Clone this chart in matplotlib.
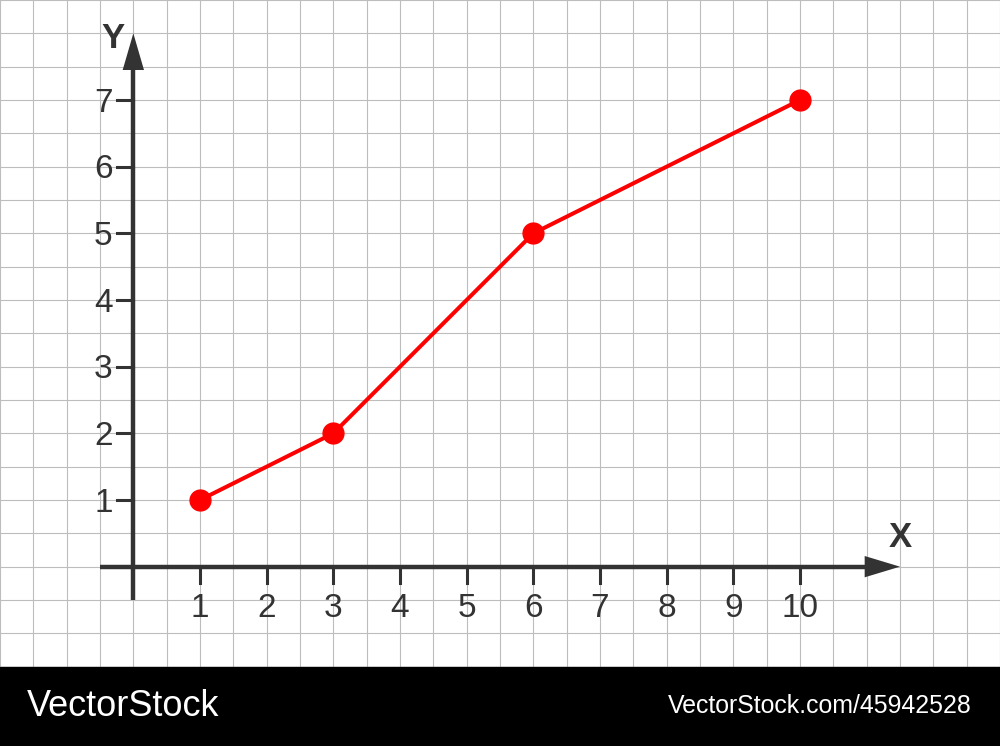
import numpy as np
import matplotlib.pyplot as plt
from matplotlib.patches import Rectangle

# 数据
x_vals = [1, 3, 6, 10]
y_vals = [1, 2, 5, 7]
x_ticks = [1, 2, 3, 4, 5, 6, 7, 8, 9, 10]
y_ticks = [1, 2, 3, 4, 5, 6, 7]

plt.rcParams['font.family'] = ['Liberation Sans', 'DejaVu Sans']
axis_color = '#333333'

fig = plt.figure(figsize=(10, 7.46), dpi=100)
ax = fig.add_axes([0, 0, 1, 1])
ax.set_xlim(-2, 13)
ax.set_ylim(-2.69, 8.5)
ax.axis('off')

# 方格纸背景
for gx in np.arange(-2, 13.01, 0.5):
    ax.plot([gx, gx], [-1.5, 8.5], color='#bdbdbd', lw=0.8, zorder=1)
for gy in np.arange(-1.5, 8.51, 0.5):
    ax.plot([-2, 13], [gy, gy], color='#bdbdbd', lw=0.8, zorder=1)

# 坐标轴
ax.plot([-0.5, 11.0], [0, 0], color=axis_color, lw=3.2, zorder=3, solid_capstyle='butt')
ax.plot([0, 0], [-0.5, 7.5], color=axis_color, lw=3.2, zorder=3, solid_capstyle='butt')
ax.fill([10.97, 11.5, 10.97], [0.16, 0, -0.16], color=axis_color, zorder=3, lw=0)
ax.fill([-0.16, 0, 0.16], [7.45, 8.0, 7.45], color=axis_color, zorder=3, lw=0)
ax.text(-0.3, 7.93, 'Y', fontsize=25, fontweight='bold', color=axis_color, ha='center', va='center')
ax.text(11.5, 0.44, 'X', fontsize=25, fontweight='bold', color=axis_color, ha='center', va='center')

# 刻度
for t in x_ticks:
    ax.plot([t, t], [0, -0.25], color=axis_color, lw=2.2, zorder=3)
    ax.text(t, -0.63, str(t), fontsize=24, color=axis_color, ha='center', va='center')
for t in y_ticks:
    ax.plot([-0.25, 0], [t, t], color=axis_color, lw=2.2, zorder=3)
    ax.text(-0.31, t - 0.05, str(t), fontsize=24, color=axis_color, ha='right', va='center')

# 折线
ax.plot(x_vals, y_vals, color='#ff0000', lw=2.9, marker='o', markersize=15, zorder=4)

# 底部黑条
ax.add_patch(Rectangle((-2, -2.69), 15, 1.19, color='black', zorder=5))
ax.text(-1.6, -2.09, 'VectorStock', fontsize=26, color='white', ha='left', va='center', zorder=6)
ax.text(12.58, -2.09, 'VectorStock.com/45942528', fontsize=17.9, color='white', ha='right', va='center', zorder=6)

plt.savefig('out.png', dpi=100)
